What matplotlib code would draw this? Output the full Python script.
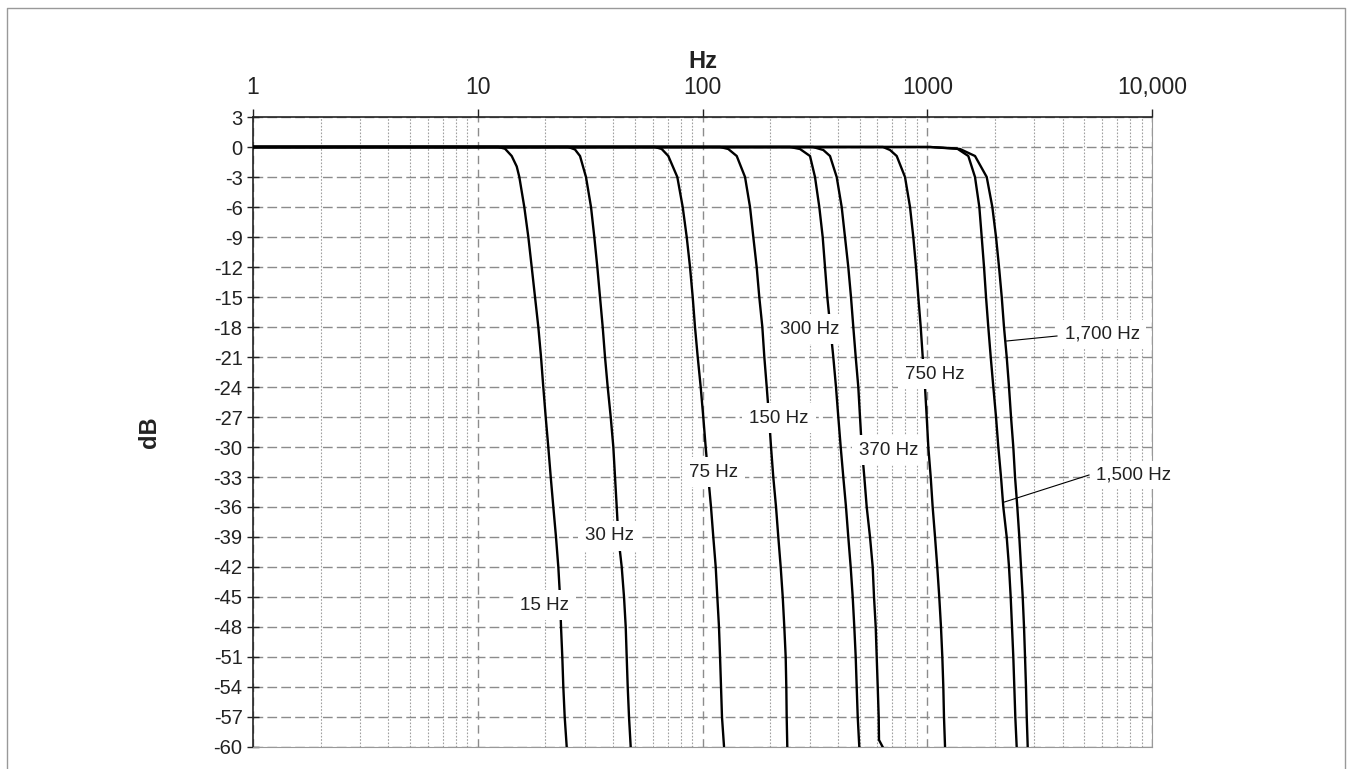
import matplotlib
matplotlib.use("Agg")
import matplotlib.pyplot as plt
from matplotlib.lines import Line2D
from matplotlib.ticker import FixedLocator, LogLocator, NullFormatter

plt.rcParams['font.family'] = ['Liberation Sans', 'DejaVu Sans']
plt.rcParams['axes.unicode_minus'] = False

####################################
# values (Hz, dB)

levels = [-3, -6, -9, -12, -15, -18, -21, -24, -27, -30,
          -33, -36, -39, -42, -45, -48, -51, -54, -57, -60]

f15 = [1, 12.35, 13.22, 14.16, 14.91, 15.31, 16.11, 16.79, 17.38, 17.98, 18.60, 19.12, 19.57,
       20.06, 20.60, 21.12, 21.69, 22.29, 22.83, 23.23, 23.47, 23.78, 24.03, 24.37, 24.88]
db15 = [0, 0, -0.17, -0.9, -1.95] + levels

f30 = [1, 25.28, 27.08, 28.51, 30.31, 31.91, 33.01, 34.04, 34.99, 35.97, 36.83, 37.86,
       39.05, 40.11, 40.81, 41.53, 42.22, 43.71, 44.75, 45.54, 46.00, 46.48, 47.10, 47.92]
db30 = [0, 0, -0.25, -0.9] + levels

f75 = [1, 61.47, 65.84, 70.45, 77.25, 81.64, 85.06, 87.99, 90.45, 92.60, 95.21, 98.17,
       100.8, 103.3, 106.1, 109.1, 111.7, 114.5, 116.4, 118.4, 119.7, 120.9, 122.1, 124.7]
db75 = [0, 0, -0.2, -0.9] + levels

f150 = [1, 119.7, 130.2, 142.0, 154.6, 162.7, 168.3, 174.2, 178.9, 184.6, 188.4, 193.1,
        197.7, 201.8, 206.5, 212.4, 217.4, 222.8, 227.5, 231.2, 234.5, 236.0, 236.9, 238.4]
db150 = [0, 0, -0.2, -0.9] + levels

f300 = [1, 245.1, 271.5, 300.8, 316.6, 330.9, 342.6, 350.8, 359.2, 370.3, 381.9, 392.6,
        402.0, 412.0, 423.1, 435.0, 445.3, 456.4, 465.9, 473.6, 480.5, 485.4, 490.5, 498.5]
db300 = [0, 0, -0.2, -0.9] + levels

f370 = [1, 310.2, 344.7, 369.2, 395.4, 416.2, 430.5, 445.3, 457.8, 468.8, 480.5, 493.4,
        502.1, 511.0, 524.8, 537.8, 556.3, 571.9, 579.6, 589.8, 595.8, 602.1, 608.1, 610.0, 633.6]
db370 = [0, 0, -0.3, -0.9] + levels[:-1] + [-59.3, -60]

f750 = [1, 635.5, 682.9, 731.3, 796.2, 838.1, 866.8, 891.3, 912.5, 935.3, 954.6, 977.2,
        994.5, 1011, 1036, 1057, 1083, 1108, 1131, 1151, 1167, 1179, 1187, 1200]
db750 = [0, 0, -0.3, -0.9] + levels

f1500 = [1, 1028, 1357, 1523, 1631, 1705, 1747, 1789, 1826, 1869, 1916, 1968,
         2023, 2071, 2129, 2180, 2257, 2311, 2351, 2383, 2415, 2440, 2465, 2500]
db1500 = [0, 0, -0.15, -0.9] + levels

f1700 = [1, 1028, 1399, 1631, 1839, 1948, 2023, 2086, 2145, 2195, 2257, 2311,
         2359, 2415, 2458, 2516, 2568, 2613, 2659, 2695, 2723, 2750, 2771, 2799]
db1700 = [0, 0, -0.2, -0.9] + levels

curves = [(f15, db15), (f30, db30), (f75, db75), (f150, db150), (f300, db300),
          (f370, db370), (f750, db750), (f1500, db1500), (f1700, db1700)]

# curve labels: text, x (Hz), y (dB)
labels = [("15 Hz", 19.9, -45.8), ("30 Hz", 38.4, -38.9), ("75 Hz", 112.5, -32.5),
          ("150 Hz", 218.9, -27.1), ("300 Hz", 300.8, -18.2), ("370 Hz", 675.7, -30.3),
          ("750 Hz", 1083, -22.7)]
# labels with leader lines: text, text x, text y, line start (x, y), line end (x, y)
leaders = [("1,700 Hz", 4103, -18.7, (2257, -19.4), (3778, -18.9)),
           ("1,500 Hz", 5633, -32.8, (2206, -35.5), (5245, -32.8))]

xticks = [1, 10, 100, 1000, 10000]
xticklabels = ["1", "10", "100", "1000", "10,000"]
yticks = list(range(3, -61, -3))

####################################

fig = plt.figure(figsize=(13.51, 7.69), dpi=100)
ax = fig.add_axes([253 / 1351, 1 - 747 / 769, 899 / 1351, 630 / 769])

for f, db in curves:
    ax.plot(f, db, color='black', lw=1.7, zorder=3, solid_joinstyle='round')

for txt, x, y in labels:
    ax.text(x, y, txt, ha='center', va='center', fontsize=13.5, color='#222', zorder=6,
            bbox=dict(facecolor='white', edgecolor='none', pad=5))

for txt, tx, ty, p0, p1 in leaders:
    ax.plot([p0[0], p1[0]], [p0[1], p1[1]], color='black', lw=0.8, zorder=4)
    ax.text(tx, ty, txt, ha='left', va='center', fontsize=13.5, color='#222', zorder=6,
            bbox=dict(facecolor='white', edgecolor='none', pad=4))

ax.set_xscale('log')
ax.set_xlim(1, 10000)
ax.set_ylim(-60, 3)

ax.xaxis.tick_top()
ax.xaxis.set_label_position('top')
ax.set_xticks(xticks)
ax.set_xticklabels(xticklabels)
ax.xaxis.set_minor_locator(LogLocator(base=10, subs=range(2, 10)))
ax.xaxis.set_minor_formatter(NullFormatter())
ax.yaxis.set_major_locator(FixedLocator(yticks))

ax.tick_params(axis='x', which='major', direction='out', length=6, width=1,
               labelsize=16.5, pad=7, colors='#222')
ax.tick_params(axis='x', which='minor', length=0)
ax.tick_params(axis='y', direction='inout', length=8, width=1, labelsize=14.5, colors='#222')

ax.grid(which='major', axis='y', color='#8c8c8c', lw=1, linestyle=(0, (7, 3)), zorder=1)
ax.grid(which='major', axis='x', color='#8c8c8c', lw=1, linestyle=(0, (6, 4)), zorder=1)
ax.grid(which='minor', axis='x', color='#a0a0a0', lw=0.8, linestyle=(0, (1.5, 1.5)), zorder=1)
ax.set_axisbelow(True)

ax.spines['left'].set_color('#222')
ax.spines['top'].set_color('#222')
ax.spines['left'].set_linewidth(1.2)
ax.spines['top'].set_linewidth(1.2)
ax.spines['bottom'].set_color('#999')
ax.spines['right'].set_color('#999')

ax.set_xlabel('Hz', fontsize=17, fontweight='bold', color='#222', labelpad=6)
ax.set_ylabel('dB', fontsize=17, fontweight='bold', color='#222')
ax.yaxis.set_label_coords(-92 / 899, 0.5)

# outer frame: top, left and right edges
fx = [6.5 / 1351, 6.5 / 1351, 1344.5 / 1351, 1344.5 / 1351]
fy = [0, 1 - 7.5 / 769, 1 - 7.5 / 769, 0]
fig.lines.append(Line2D(fx, fy, transform=fig.transFigure, color='#999', lw=1))

fig.savefig('out.png', dpi=100)
